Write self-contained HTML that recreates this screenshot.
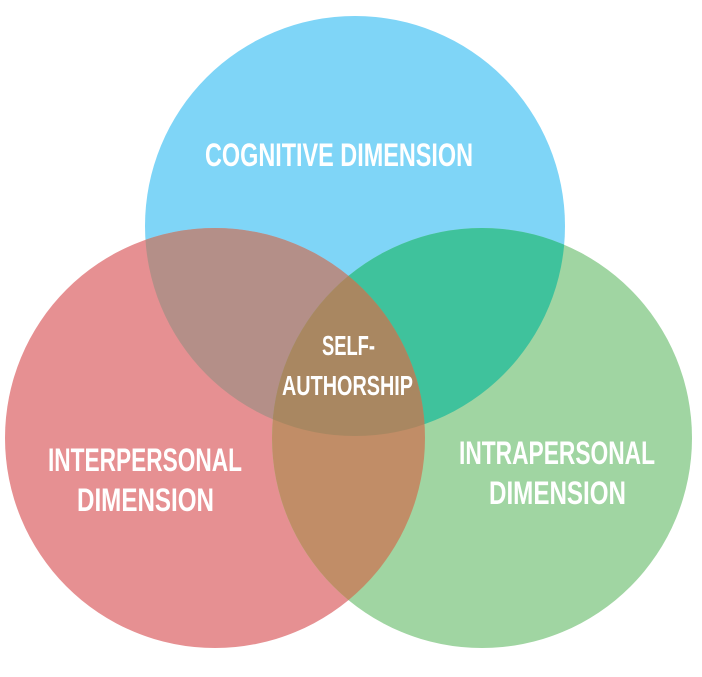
<!DOCTYPE html>
<html><head><style>html,body{margin:0;padding:0;background:#fff;}</style></head>
<body>
<svg width="702" height="672" viewBox="0 0 702 672" xmlns="http://www.w3.org/2000/svg">
<defs>
<clipPath id="cT"><circle cx="355" cy="226" r="210"/></clipPath>
<clipPath id="cL"><circle cx="215" cy="438" r="210"/></clipPath>
<clipPath id="cR"><circle cx="482" cy="438" r="210"/></clipPath>
</defs>
<circle cx="355" cy="226" r="210" fill="#7fd5f7"/>
<circle cx="215" cy="438" r="210" fill="#e69092"/>
<circle cx="482" cy="438" r="210" fill="#a0d5a2"/>
<g clip-path="url(#cT)"><circle cx="215" cy="438" r="210" fill="#b48f88"/><circle cx="482" cy="438" r="210" fill="#3fc29c"/></g>
<g clip-path="url(#cL)"><circle cx="482" cy="438" r="210" fill="#c18d67"/></g>
<g clip-path="url(#cT)"><g clip-path="url(#cL)"><circle cx="482" cy="438" r="210" fill="#a98761"/></g></g>
<g fill="#fff" font-family="Liberation Sans, sans-serif" font-weight="bold" font-size="32">
<text x="205" y="166" textLength="268" lengthAdjust="spacingAndGlyphs">COGNITIVE DIMENSION</text>
<text x="48" y="471" textLength="194" lengthAdjust="spacingAndGlyphs">INTERPERSONAL</text>
<text x="77" y="511" textLength="137" lengthAdjust="spacingAndGlyphs">DIMENSION</text>
<text x="459" y="464" textLength="196" lengthAdjust="spacingAndGlyphs">INTRAPERSONAL</text>
<text x="489" y="504" textLength="137" lengthAdjust="spacingAndGlyphs">DIMENSION</text>
<text x="322" y="355" font-size="28" textLength="53" lengthAdjust="spacingAndGlyphs">SELF-</text>
<text x="282" y="395" font-size="28" textLength="131" lengthAdjust="spacingAndGlyphs">AUTHORSHIP</text>
</g>
</svg>
</body></html>
